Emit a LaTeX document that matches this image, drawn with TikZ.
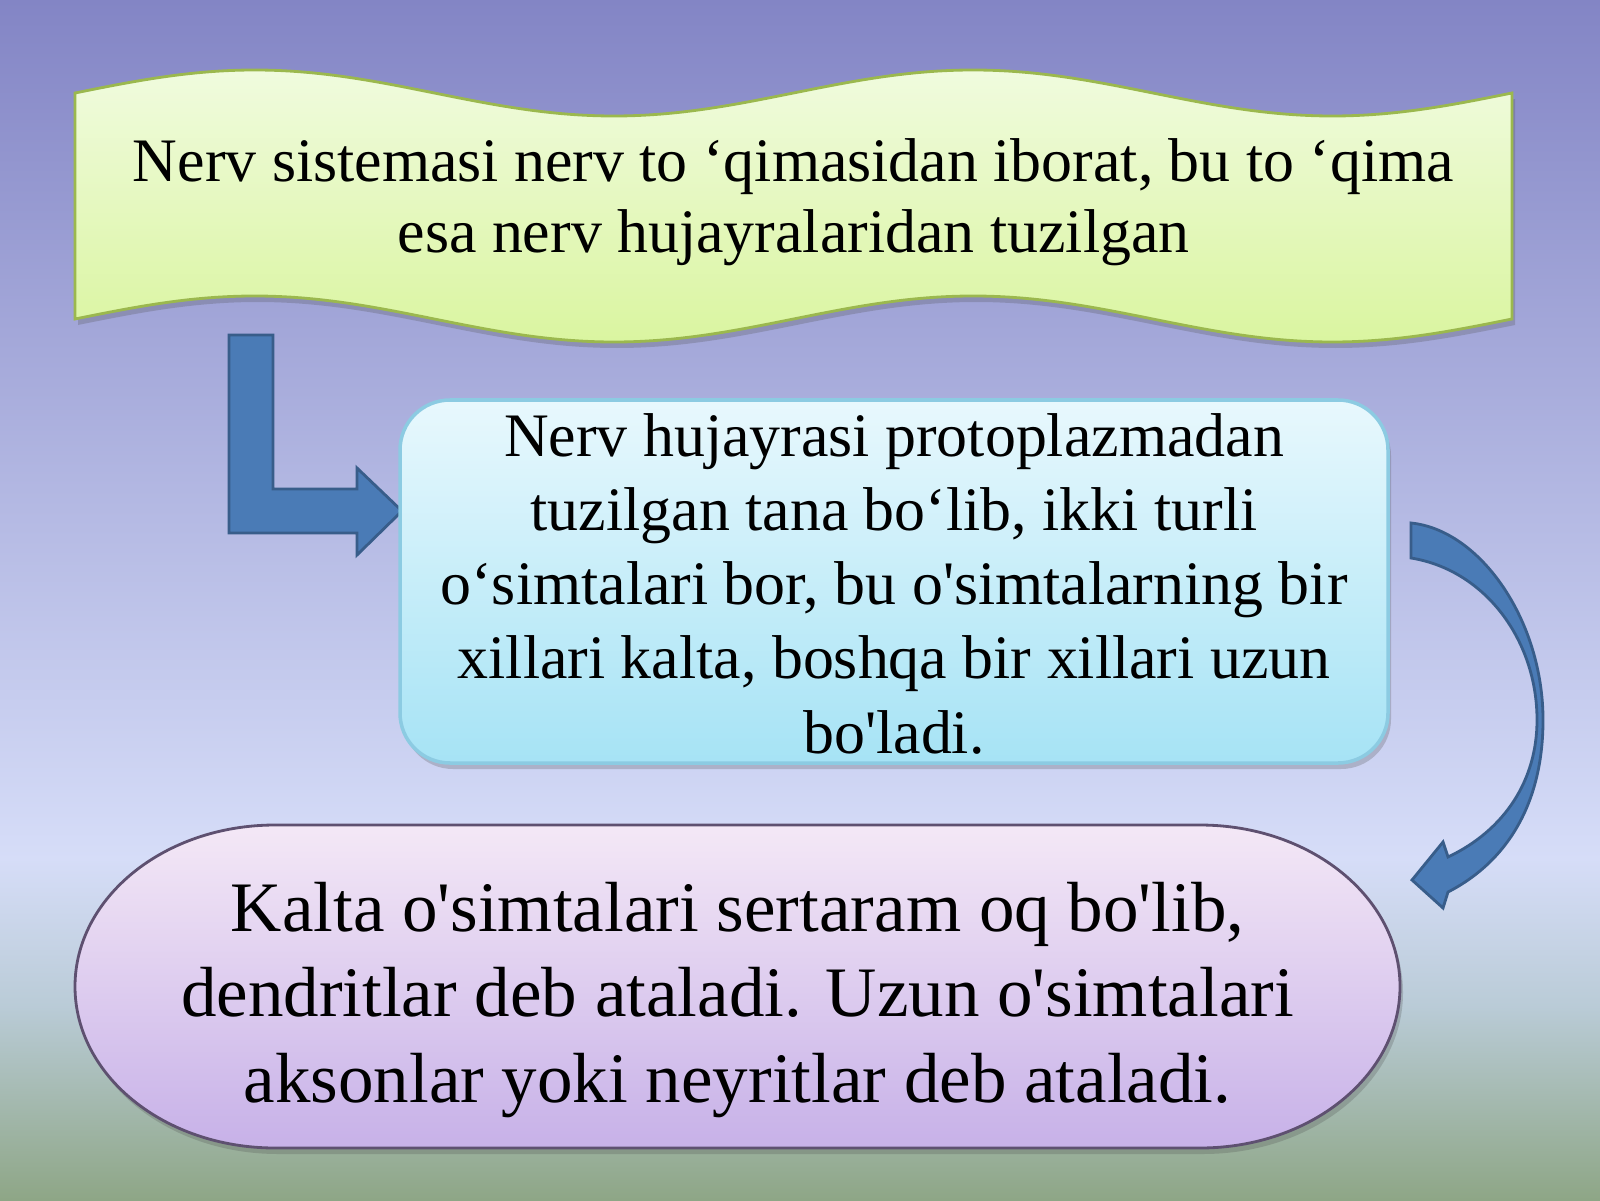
\documentclass[tikz,border=0pt]{standalone}
\usepackage{fontspec}
\setmainfont{Liberation Serif}
\usetikzlibrary{shadows}
\definecolor{bgtop}{HTML}{8385C5}
\definecolor{bgmid}{HTML}{D6DDF8}
\definecolor{bglow}{HTML}{B9CBD6}
\definecolor{bgbot}{HTML}{8EA686}
\definecolor{bantop}{HTML}{F0FBDE}
\definecolor{banbot}{HTML}{DAF5A0}
\definecolor{banline}{HTML}{9BB84E}
\definecolor{midtop}{HTML}{E8F8FD}
\definecolor{midbot}{HTML}{A6E3F5}
\definecolor{midline}{HTML}{8CCBE2}
\definecolor{elltop}{HTML}{F4E8F6}
\definecolor{ellbot}{HTML}{C7B1E8}
\definecolor{ellline}{HTML}{5E5070}
\definecolor{arrfill}{HTML}{4A7BB6}
\definecolor{arrline}{HTML}{385D8A}
\newcommand\ap{\textquotesingle}
\tikzset{
  shad/.style={drop shadow={shadow xshift=0.03cm, shadow yshift=-0.06cm, opacity=0.25, fill=black!70}},
  banner/.style={top color=bantop, bottom color=banbot, draw=banline, line width=0.8pt, shad},
  midbox/.style={top color=midtop, bottom color=midbot, draw=midline, line width=1pt, rounded corners=0.5cm, shad},
  ellbox/.style={top color=elltop, bottom color=ellbot, draw=ellline, line width=0.8pt, shad},
  blockarrow/.style={fill=arrfill, draw=arrline, line width=0.8pt, line join=miter},
  txt/.style={anchor=base, inner sep=0pt, text=black}
}
\begin{document}
\begin{tikzpicture}
\useasboundingbox (0,0) rectangle (16,12);
% background
\shade[top color=bgtop, bottom color=bgmid] (0,3.4) rectangle (16,12);
\shade[top color=bgmid, bottom color=bglow] (0,1.9) rectangle (16,3.42);
\shade[top color=bglow, bottom color=bgbot] (0,0) rectangle (16,1.92);
% top wave banner
\path[banner] (0.75,11.07) sin (2.546,11.30) cos (4.343,11.07) sin (6.139,10.84) cos (7.935,11.07)
  sin (9.731,11.30) cos (11.528,11.07) sin (13.324,10.84) cos (15.12,11.07)
  -- (15.12,8.81) sin (13.324,8.58) cos (11.528,8.81) sin (9.731,9.04) cos (7.935,8.81)
  sin (6.139,8.58) cos (4.343,8.81) sin (2.546,9.04) cos (0.75,8.81) -- cycle;
\node[txt, font=\fontsize{17.6}{20.2}\selectfont] (t1) at (7.935,10.18)
  {\parbox[t]{15cm}{\centering Nerv sistemasi nerv to ‘qimasidan iborat, bu to ‘qima\\esa nerv hujayralaridan tuzilgan}};
% bent arrow
\path[blockarrow] (2.29,8.65) -- (2.73,8.65) -- (2.73,7.11) -- (3.57,7.11) -- (3.57,7.32)
  -- (4.02,6.89) -- (3.57,6.45) -- (3.57,6.67) -- (2.29,6.67) -- cycle;
% middle box
\path[midbox] (4.00,4.37) rectangle (13.88,8.00);
\node[txt, font=\fontsize{17.6}{21.13}\selectfont] (t2) at (8.94,7.44)
  {\parbox[t]{11cm}{\centering Nerv hujayrasi protoplazmadan\\tuzilgan tana bo‘lib, ikki turli\\o‘simtalari bor, bu o\ap simtalarning bir\\xillari kalta, boshqa bir xillari uzun\\bo\ap ladi.}};
% curved arrow
\path[blockarrow] (14.11,6.77) .. controls (14.80,6.70) and (15.43,5.80) .. (15.43,4.80)
  .. controls (15.43,4.00) and (15.10,3.40) .. (14.48,3.08)
  -- (14.43,2.92) -- (14.12,3.20) -- (14.43,3.58) -- (14.48,3.43)
  .. controls (15.05,3.70) and (15.37,4.20) .. (15.37,4.80)
  .. controls (15.37,5.60) and (14.85,6.30) .. (14.11,6.42) -- cycle;
% bottom shape
\path[ellbox] (2.75,3.75) -- (12.0,3.75) arc[start angle=90, end angle=-90, x radius=2, y radius=1.615]
  -- (2.75,0.52) arc[start angle=270, end angle=90, x radius=2, y radius=1.615] -- cycle;
\node[txt, font=\fontsize{20.2}{24.33}\selectfont] (t3) at (7.375,2.69)
  {\parbox[t]{13cm}{\centering Kalta o\ap simtalari sertaram oq bo\ap lib,\\dendritlar deb ataladi. Uzun o\ap simtalari\\aksonlar yoki neyritlar deb ataladi.}};
\end{tikzpicture}
\end{document}
